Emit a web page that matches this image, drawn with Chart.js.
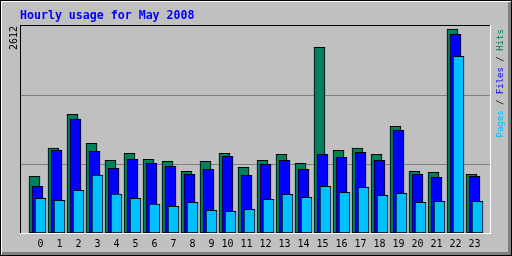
<!DOCTYPE html>
<html>
<head>
<meta charset="utf-8">
<title>Hourly usage for May 2008</title>
<script src="https://cdn.jsdelivr.net/npm/chart.js@4.4.0/dist/chart.umd.min.js"></script>
<style>
  body { margin: 0; background: #c0c0c0; }
  canvas { display: block; }
</style>
</head>
<body>
<canvas id="myChart" width="512" height="256"></canvas>
<script>
// du lieu theo gio
const hours = ['0', '1', '2', '3', '4', '5', '6', '7', '8', '9', '10', '11',
        '12', '13', '14', '15', '16', '17', '18', '19', '20', '21', '22', '23'];
const hits = [726, 1088, 1520, 1148, 931, 1020, 944, 918, 790, 918, 1020, 841,
        931, 1008, 892, 2377, 1059, 1088, 1008, 1366, 790, 777, 2612, 751];
const files = [598, 1059, 1459, 1046, 828, 944, 892, 854, 751, 815, 982, 739,
        879, 931, 815, 1008, 969, 1033, 931, 1315, 751, 713, 2544, 726];
const pages = [444, 419, 547, 742, 499, 444, 371, 342, 393, 291, 278, 303,
        431, 495, 457, 598, 521, 585, 483, 508, 393, 406, 2262, 406];
const chartTitle = 'Hourly usage for May 2008';
const yMax = 2650;
const peak = Math.max(...hits);

// mau va do lech cot
const hitsColor = '#00805c';
const filesColor = '#0000ff';
const pagesColor = '#00c0ff';
const barShift = [-3, 0, 3];
const mono = '"DejaVu Sans Mono", monospace';

// ve khung, luoi, tieu de
const framePlugin = {
        id: 'frame',
        beforeDraw(chart) {
                const ctx = chart.ctx;
                const w = chart.width, h = chart.height;
                const area = chart.chartArea;
                ctx.save();
                ctx.fillStyle = '#c0c0c0';
                ctx.fillRect(0, 0, w, h);
                // vien ngoai
                ctx.fillStyle = '#000';
                ctx.fillRect(0, 0, w, 1);
                ctx.fillRect(0, 0, 1, h);
                ctx.fillRect(w - 1, 0, 1, h);
                ctx.fillRect(0, h - 1, w, 1);
                ctx.fillStyle = '#fff';
                ctx.fillRect(1, 1, w - 2, 1);
                ctx.fillRect(1, 1, 1, h - 2);
                ctx.fillStyle = '#808080';
                ctx.fillRect(w - 4, 2, 3, h - 3);
                ctx.fillRect(2, h - 4, w - 3, 3);
                // khung bieu do
                const left = 20, right = 490, top = area.top - 1, bottom = area.bottom;
                ctx.fillStyle = '#000';
                ctx.fillRect(left, top, right - left + 1, 1);
                ctx.fillRect(left, top, 1, bottom - top + 1);
                ctx.fillStyle = '#fff';
                ctx.fillRect(left, bottom, right - left + 1, 1);
                ctx.fillRect(right, top, 1, bottom - top + 1);
                // luoi ngang
                const y = chart.scales.y;
                ctx.fillStyle = '#808080';
                y.ticks.forEach(t => {
                        if (t.value <= 0 || t.value >= yMax) return;
                        const py = Math.round(y.getPixelForValue(t.value));
                        ctx.fillRect(left + 1, py, right - left - 1, 1);
                });
                // tieu de
                ctx.font = 'bold 11.6px ' + mono;
                ctx.fillStyle = '#0000ff';
                ctx.textBaseline = 'alphabetic';
                ctx.fillText(chartTitle, 20, 19);
                ctx.restore();
        },
        afterDraw(chart) {
                // chu thich doc ben phai
                const ctx = chart.ctx;
                const ds = chart.data.datasets;
                const parts = [
                        { text: ds[2].label, color: ds[2].backgroundColor },
                        { text: ' / ', color: '#000' },
                        { text: ds[1].label, color: ds[1].backgroundColor },
                        { text: ' / ', color: '#000' },
                        { text: ds[0].label, color: ds[0].backgroundColor }
                ];
                ctx.save();
                ctx.translate(503, 137.5);
                ctx.rotate(-Math.PI / 2);
                ctx.font = '9px ' + mono;
                ctx.textBaseline = 'alphabetic';
                let x = 0;
                parts.forEach(p => {
                        ctx.fillStyle = p.color;
                        ctx.fillText(p.text, x, 0);
                        x += ctx.measureText(p.text).width;
                });
                ctx.restore();
        }
};

// day cot lech nhau nhu webalizer
const shiftPlugin = {
        id: 'shift',
        afterDatasetsUpdate(chart) {
                chart.data.datasets.forEach((ds, i) => {
                        chart.getDatasetMeta(i).data.forEach(bar => {
                                bar.x += barShift[i];
                        });
                });
        }
};

const data = {
        labels: hours,
        datasets: [
                { label: 'Hits', data: hits, backgroundColor: hitsColor, order: 3 },
                { label: 'Files', data: files, backgroundColor: filesColor, order: 2 },
                { label: 'Pages', data: pages, backgroundColor: pagesColor, order: 1 }
        ]
};

const config = {
        type: 'bar',
        data: data,
        options: {
                responsive: false,
                animation: false,
                devicePixelRatio: 1,
                layout: { padding: { top: 26, right: 28, left: 0, bottom: 0 } },
                datasets: {
                        bar: {
                                grouped: false,
                                barThickness: 11,
                                borderWidth: 1,
                                borderColor: '#000',
                                borderSkipped: false
                        }
                },
                plugins: {
                        legend: { display: false },
                        tooltip: { enabled: false },
                        title: { display: false }
                },
                scales: {
                        x: {
                                grid: { display: false, drawTicks: false },
                                border: { display: false },
                                ticks: {
                                        color: '#000',
                                        font: { family: mono, size: 10 },
                                        padding: 5,
                                        maxRotation: 0,
                                        autoSkip: false,
                                        callback: (v, i) => hours[i].padStart(2, ' ')
                                },
                                afterFit: s => { s.height = 23; }
                        },
                        y: {
                                min: 0,
                                max: yMax,
                                grid: { display: false },
                                border: { display: false },
                                ticks: { display: false },
                                afterBuildTicks: s => {
                                        s.ticks = [0, 1, 2, 3].map(k => ({ value: yMax * k / 3 }));
                                },
                                title: {
                                        display: true,
                                        text: String(peak),
                                        align: 'end',
                                        color: '#000',
                                        font: { family: mono, size: 10 },
                                        padding: { top: 8, bottom: 0 }
                                },
                                afterFit: s => { s.width = 28; }
                        }
                }
        },
        plugins: [framePlugin, shiftPlugin]
};

const myChart = new Chart(document.getElementById('myChart'), config);
</script>
</body>
</html>
